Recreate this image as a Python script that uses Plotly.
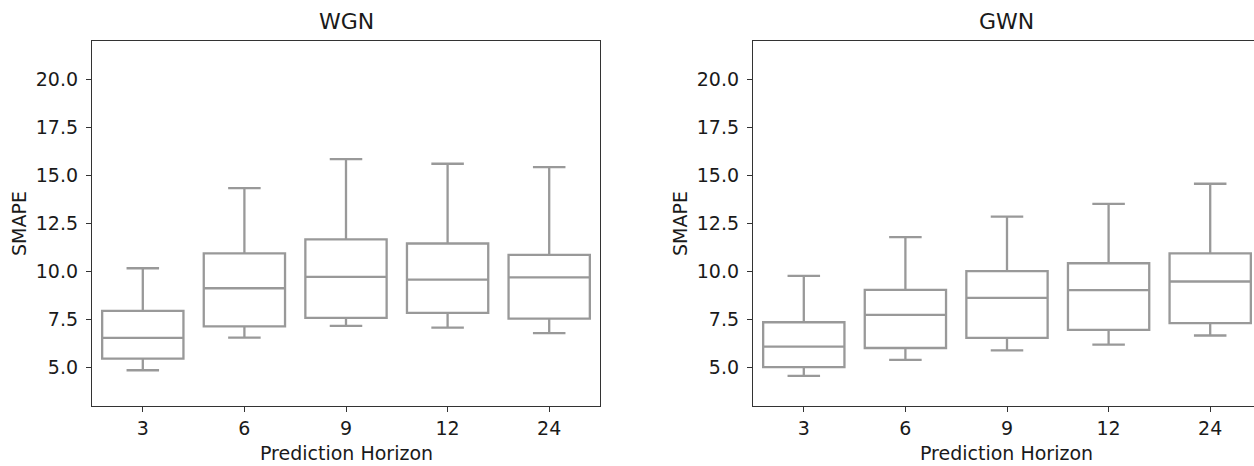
import plotly.graph_objects as go

horizons = ["3", "6", "9", "12", "24"]

# WGN
wgn_lower = [4.86, 6.56, 7.17, 7.08, 6.79]
wgn_q1 = [5.47, 7.14, 7.59, 7.85, 7.55]
wgn_median = [6.55, 9.13, 9.72, 9.58, 9.70]
wgn_q3 = [7.95, 10.95, 11.67, 11.46, 10.87]
wgn_upper = [10.17, 14.34, 15.85, 15.61, 15.43]

# GWN
gwn_lower = [4.57, 5.40, 5.90, 6.20, 6.67]
gwn_q1 = [5.02, 6.02, 6.55, 6.96, 7.31]
gwn_median = [6.09, 7.74, 8.63, 9.03, 9.48]
gwn_q3 = [7.36, 9.05, 10.02, 10.43, 10.95]
gwn_upper = [9.77, 11.79, 12.86, 13.52, 14.57]

y_ticks = [5.0, 7.5, 10.0, 12.5, 15.0, 17.5, 20.0]

W, H = 1254, 466
BOX_COLOR = "#999999"
SPINE = "#333333"
TEXT = "#1a1a1a"
FONT = "DejaVu Sans"
FS = 19

fig = go.Figure()

def add_box(lower, q1, med, q3, upper, xa, ya):
    fig.add_trace(go.Box(
        x=horizons, q1=q1, median=med, q3=q3,
        lowerfence=lower, upperfence=upper,
        width=0.8, whiskerwidth=0.4,
        line=dict(color=BOX_COLOR, width=2.3),
        fillcolor="white", boxpoints=False,
        showlegend=False, hoverinfo="skip",
        xaxis=xa, yaxis=ya,
    ))

add_box(wgn_lower, wgn_q1, wgn_median, wgn_q3, wgn_upper, "x", "y")
add_box(gwn_lower, gwn_q1, gwn_median, gwn_q3, gwn_upper, "x2", "y2")

ydom = [1 - 406 / H, 1 - 41 / H]
xdom1 = [92 / W, 600 / W]
xdom2 = [753 / W, 1.0]
cat_px = (600 - 92) / 5.0
right_max = -0.5 + (W - 753) / cat_px

common_x = dict(type="category", categoryorder="array", categoryarray=horizons,
                showline=True, linecolor=SPINE, linewidth=1.3,
                ticks="outside", ticklen=5, tickwidth=1.1, tickcolor=SPINE,
                tickfont=dict(family=FONT, size=FS, color=TEXT),
                showgrid=False, zeroline=False, automargin=False, fixedrange=True)
common_y = dict(range=[3.0, 22.0], tickvals=y_ticks,
                ticktext=[f"{v:.1f}" for v in y_ticks],
                showline=True, linecolor=SPINE, linewidth=1.3,
                ticks="outside", ticklen=5, tickwidth=1.1, tickcolor=SPINE,
                ticklabelstandoff=4,
                tickfont=dict(family=FONT, size=FS, color=TEXT),
                showgrid=False, zeroline=False, automargin=False, fixedrange=True)

fig.update_layout(
    width=W, height=H,
    margin=dict(l=0, r=0, t=0, b=0),
    template="none",
    paper_bgcolor="white", plot_bgcolor="white",
    xaxis=dict(domain=xdom1, range=[-0.5, 4.5], mirror=True, anchor="y", **common_x),
    yaxis=dict(domain=ydom, mirror=True, anchor="x", **common_y),
    xaxis2=dict(domain=xdom2, range=[-0.5, right_max], mirror=True, anchor="y2", **common_x),
    yaxis2=dict(domain=ydom, mirror=False, anchor="x2", **common_y),
)

def ann(text, x, y, size, angle=0):
    fig.add_annotation(text=text, x=x / W, y=1 - y / H, xref="paper", yref="paper",
                       showarrow=False, textangle=angle,
                       font=dict(family=FONT, size=size, color=TEXT),
                       xanchor="center", yanchor="middle")

ann("WGN", 346, 21, 22)
ann("GWN", 1007, 21, 22)
ann("Prediction Horizon", 346, 453, FS)
ann("Prediction Horizon", 1007, 453, FS)
ann("SMAPE", 19, 224, FS, -90)
ann("SMAPE", 680, 224, FS, -90)

fig.write_html("out.html")
